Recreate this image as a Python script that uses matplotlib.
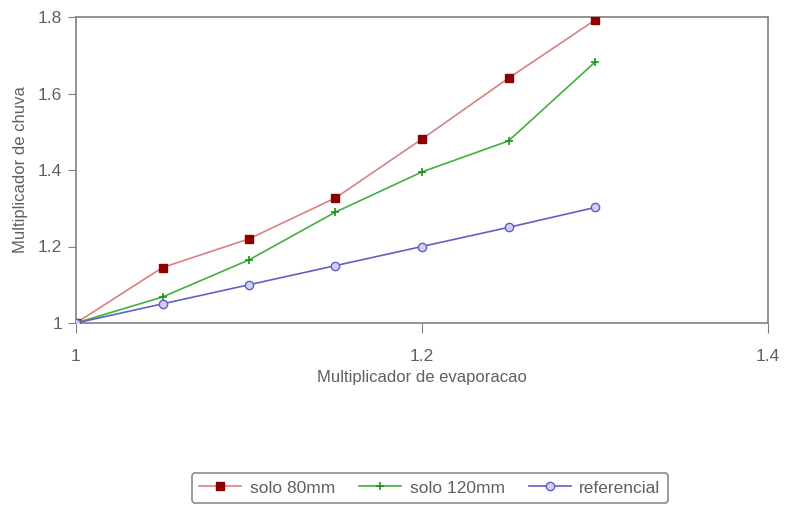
import matplotlib
matplotlib.use("Agg")
import matplotlib.pyplot as plt

x = [1.0, 1.05, 1.1, 1.15, 1.2, 1.25, 1.3]
solo80 = [1.0, 1.145, 1.22, 1.327, 1.481, 1.64, 1.792]
solo120 = [1.0, 1.068, 1.165, 1.29, 1.395, 1.476, 1.682]
referencial = [1.0, 1.05, 1.1, 1.15, 1.2, 1.25, 1.302]
xticks = [1.0, 1.2, 1.4]
xtick_labels = ["1", "1.2", "1.4"]
yticks = [1.0, 1.2, 1.4, 1.6, 1.8]
ytick_labels = ["1", "1.2", "1.4", "1.6", "1.8"]

plt.rcParams['font.family'] = ['Liberation Sans', 'DejaVu Sans']
fig = plt.figure(figsize=(7.86, 5.17), dpi=100)
W, H = 786, 517
ax = fig.add_axes([76/W, 1-323/H, (768-76)/W, (323-17)/H])

ax.plot(x, solo80, color='#d98080', lw=1.2, marker='s', ms=6,
        mfc='#8b0000', mec='#8b0000', label='solo 80mm', zorder=3)
ax.plot(x, solo120, color='#40b040', lw=1.2, marker='+', ms=6, mew=1.2,
        mec='#209020', label='solo 120mm', zorder=3)
ax.plot(x, referencial, color='#6060c8', lw=1.2, marker='o', ms=6,
        mfc='#d0d0f0', mec='#6060c8', label='referencial', zorder=3)

ax.set_xlim(1.0, 1.4)
ax.set_ylim(1.0, 1.8)
ax.set_xticks(xticks)
ax.set_xticklabels(xtick_labels)
ax.set_yticks(yticks)
ax.set_yticklabels(ytick_labels)
for s in ax.spines.values():
    s.set_color('#808080')
    s.set_linewidth(1.2)
ax.tick_params(axis='x', direction='out', length=7, pad=12, color='#808080',
               labelsize=12.5, labelcolor='#606060')
ax.tick_params(axis='y', direction='out', length=6, pad=4, color='#808080',
               labelsize=12.5, labelcolor='#606060')
ax.set_xlabel('Multiplicador de evaporacao', fontsize=12, color='#606060', labelpad=4)
ax.set_ylabel('Multiplicador de chuva', fontsize=12, color='#606060', labelpad=7)

leg = fig.legend(loc='center', bbox_to_anchor=(430/W, 1-488/H), ncol=3,
                 frameon=True, fontsize=12.5, handlelength=2.4, columnspacing=1.4,
                 handletextpad=0.5, borderpad=0.45, fancybox=True)
for t in leg.get_texts():
    t.set_color('#606060')
leg.get_frame().set_edgecolor('#707070')
leg.get_frame().set_linewidth(1.2)

fig.savefig('out.png', dpi=100)
